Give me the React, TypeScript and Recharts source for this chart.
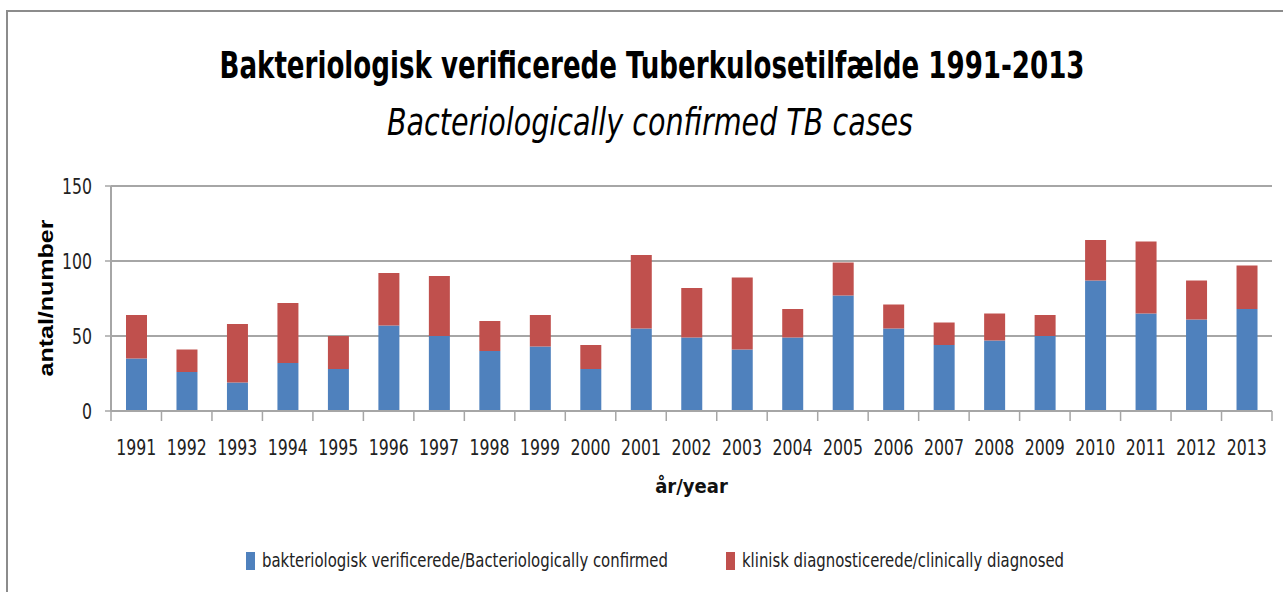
import { Bar, BarChart, CartesianGrid, XAxis, YAxis } from 'recharts'

const YEARS = [
  '1991', '1992', '1993', '1994', '1995', '1996', '1997', '1998', '1999', '2000', '2001', '2002',
  '2003', '2004', '2005', '2006', '2007', '2008', '2009', '2010', '2011', '2012', '2013',
]
const CONFIRMED = [35, 26, 19, 32, 28, 57, 50, 40, 43, 28, 55, 49, 41, 49, 77, 55, 44, 47, 50, 87, 65, 61, 68]
const CLINICAL = [29, 15, 39, 40, 22, 35, 40, 20, 21, 16, 49, 33, 48, 19, 22, 16, 15, 18, 14, 27, 48, 26, 29]
const Y_TICKS = [0, 50, 100, 150]

const SERIES = [
  { key: 'confirmed', name: 'bakteriologisk verificerede/Bacteriologically confirmed', color: '#4F81BD' },
  { key: 'clinical', name: 'klinisk diagnosticerede/clinically diagnosed', color: '#C0504D' },
]

const TITLE = 'Bakteriologisk verificerede Tuberkulosetilfælde 1991-2013'
const SUBTITLE = 'Bacteriologically confirmed TB cases'

const W = 1283
const H = 592
const PLOT_LEFT = 111
const PLOT_RIGHT = 1272
const PLOT_TOP = 186
const PLOT_BOTTOM = 411
const BAND = (PLOT_RIGHT - PLOT_LEFT) / YEARS.length
const NARROW = '"DejaVu Sans Condensed", "Liberation Sans", sans-serif'
const GRID = '#a6a6a6'
const DIGIT_W = 10 // squeezed digits, like the Excel export
const TITLE_SQUEEZE = 0.75

const data = YEARS.map((year, i) => ({
  year,
  confirmed: CONFIRMED[i],
  clinical: CLINICAL[i],
}))

function YearTick(props: any) {
  const { x, y, payload, index } = props
  const half = BAND / 2
  const label = String(payload.value)
  return (
    <g>
      <line x1={x - half} x2={x - half} y1={y} y2={y + 10} stroke={GRID} strokeWidth={1.5} />
      {index === YEARS.length - 1 && (
        <line x1={x + half} x2={x + half} y1={y} y2={y + 10} stroke={GRID} strokeWidth={1.5} />
      )}
      <text
        x={x}
        y={y + 44}
        textAnchor="middle"
        fontFamily={NARROW}
        fontSize={22}
        textLength={label.length * DIGIT_W}
        lengthAdjust="spacingAndGlyphs"
        fill="#222"
      >
        {label}
      </text>
    </g>
  )
}

function CountTick(props: any) {
  const { x, y, payload } = props
  const label = String(payload.value)
  return (
    <text
      x={x}
      y={y + 8}
      textAnchor="end"
      fontFamily={NARROW}
      fontSize={22}
      textLength={label.length * DIGIT_W}
      lengthAdjust="spacingAndGlyphs"
      fill="#222"
    >
      {label}
    </text>
  )
}

export default function App() {
  return (
    <div
      style={{
        position: 'fixed',
        left: 0,
        top: 0,
        width: W,
        height: H,
        overflow: 'hidden',
        background: '#fff',
      }}
    >
      <div
        style={{
          position: 'absolute',
          left: 6,
          top: 10,
          width: 1320,
          height: 640,
          border: '2px solid #8c8c8c',
        }}
      />
      <div style={{ position: 'absolute', left: 0, top: 0 }}>
        <BarChart
          width={W}
          height={H}
          data={data}
          margin={{ top: PLOT_TOP, right: W - PLOT_RIGHT, bottom: H - PLOT_BOTTOM - 40, left: PLOT_LEFT - 60 }}
        >
          <CartesianGrid vertical={false} stroke={GRID} strokeWidth={2} />
          <XAxis
            dataKey="year"
            height={40}
            interval={0}
            tickLine={false}
            tickSize={0}
            tickMargin={0}
            axisLine={{ stroke: GRID, strokeWidth: 2 }}
            tick={<YearTick />}
            label={{
              value: 'år/year',
              position: 'bottom',
              offset: 28,
              fontFamily: NARROW,
              fontWeight: 'bold',
              fontSize: 20,
              fill: '#111',
            }}
          />
          <YAxis
            width={60}
            domain={[0, 150]}
            ticks={Y_TICKS}
            interval={0}
            tickSize={6}
            tickMargin={13}
            tickLine={{ stroke: GRID, strokeWidth: 1.5 }}
            axisLine={{ stroke: GRID, strokeWidth: 2 }}
            tick={<CountTick />}
          />
          {SERIES.map((s) => (
            <Bar
              key={s.key}
              dataKey={s.key}
              name={s.name}
              stackId="a"
              fill={s.color}
              barSize={21}
              isAnimationActive={false}
            />
          ))}
        </BarChart>
      </div>
      <svg
        width={W}
        height={H}
        style={{ position: 'absolute', left: 0, top: 0, pointerEvents: 'none' }}
      >
        <g transform={`translate(652, 78) scale(${TITLE_SQUEEZE}, 1)`}>
          <text
            x={0}
            y={0}
            textAnchor="middle"
            fontFamily={NARROW}
            fontWeight="bold"
            fontSize={38}
            textLength={865 / TITLE_SQUEEZE}
            lengthAdjust="spacingAndGlyphs"
            fill="#000"
          >
            {TITLE}
          </text>
        </g>
        <text
          x={650}
          y={135}
          textAnchor="middle"
          fontFamily={NARROW}
          fontStyle="italic"
          fontSize={37}
          textLength={526}
          lengthAdjust="spacingAndGlyphs"
          fill="#000"
        >
          {SUBTITLE}
        </text>
        <text
          transform="translate(53, 298) rotate(-90)"
          textAnchor="middle"
          fontFamily='"Liberation Sans", Arial, sans-serif'
          fontWeight="bold"
          fontSize={21}
          textLength={157}
          lengthAdjust="spacingAndGlyphs"
          fill="#000"
        >
          antal/number
        </text>
        {SERIES.map((s, i) => {
          const x0 = i === 0 ? 246 : 726
          const len = i === 0 ? 406 : 322
          return (
            <g key={s.key}>
              <rect x={x0} y={552} width={9} height={18} fill={s.color} />
              <text
                x={x0 + 16}
                y={567}
                fontFamily={NARROW}
                fontSize={19}
                textLength={len}
                lengthAdjust="spacingAndGlyphs"
                fill="#222"
              >
                {s.name}
              </text>
            </g>
          )
        })}
      </svg>
    </div>
  )
}
